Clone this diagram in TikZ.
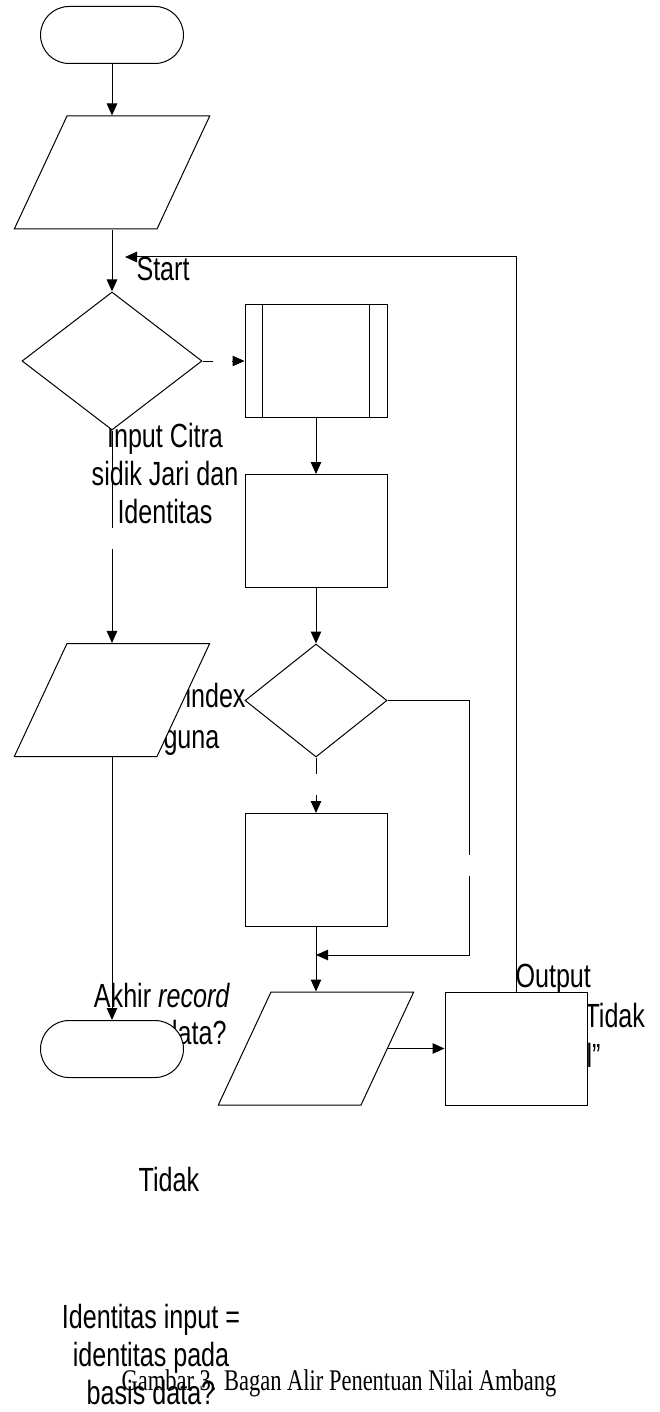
\documentclass[tikz,border=0pt]{standalone}
\usepackage{fontspec}
\setmainfont{Liberation Sans}[FakeStretch=0.75]
\newfontfamily\capfont{Liberation Serif}[FakeStretch=0.75]
\usetikzlibrary{shapes.geometric,shapes.misc,arrows.meta}

\begin{document}
\begin{tikzpicture}[x=1pt,y=-1pt,line width=1pt,
  term/.style={draw,fill=white,rounded rectangle,minimum width=143pt,minimum height=57pt,inner sep=0pt},
  io/.style={draw,fill=white,trapezium,trapezium left angle=65,trapezium right angle=115,inner xsep=45pt,inner ysep=56.5pt},
  proc/.style={draw,fill=white,minimum width=142pt,minimum height=113pt,inner sep=0pt},
  dec/.style={draw,fill=white,diamond,inner sep=0pt},
  lbl/.style={inner sep=0pt,align=center,font=\fontsize{33.5}{38}\selectfont},
  arr/.style={-{Triangle[length=12pt,width=10.5pt]}}
]
  \useasboundingbox (0,0) rectangle (660,1412);

  % Labels first, the white boxes go on top of them
  \node[lbl,anchor=base west] (tstart) at (136,280) {Start};
  \node[lbl,anchor=base] (tcitra) at (165,523) {Input Citra\\sidik Jari dan\\Identitas};
  \node[lbl,anchor=base west] (tindex) at (185,707) {index};
  \node[lbl,anchor=base west] (tguna) at (163,748) {guna};
  \node[lbl,anchor=base] (takhir) at (162,1007) {Akhir \textit{record}};
  \node[lbl,anchor=base east] (tdata) at (227,1044) {data?};
  \node[lbl,anchor=base west] (tout) at (515,987) {Output};
  \node[lbl,anchor=base west] (ttidak) at (584,1027) {Tidak};
  \node[lbl,anchor=base west] (tvalid) at (586,1067) {l”};
  \node[lbl,anchor=base] (ttidak2) at (169,1191) {Tidak};
  \node[lbl,anchor=base] (tident) at (151,1404) {Identitas input =\\identitas pada\\basis data?};
  \node[anchor=base,inner sep=0pt,font=\capfont\fontsize{30}{34}\selectfont] (caption) at (339,1390) {Gambar 3. Bagan Alir Penentuan Nilai Ambang};

  % Left column
  \node[term] (start) at (112,35) {};
  \node[io] (par1) at (112,172.5) {};
  \node[dec,minimum width=180pt,minimum height=138pt] (dec1) at (112,361) {};
  \node[io] (par3) at (112,700) {};
  \node[term] (stop) at (112,1049) {};

  % Middle column
  \node[proc] (sub) at (316,361) {};
  \draw ([xshift=18pt]sub.north west) -- ([xshift=18pt]sub.south west);
  \draw ([xshift=-18pt]sub.north east) -- ([xshift=-18pt]sub.south east);
  \node[proc] (box2) at (316,531) {};
  \node[dec,minimum width=142pt,minimum height=113pt] (dec2) at (316,700.5) {};
  \node[proc] (box3) at (316,870) {};
  \node[io] (par2) at (316,1048.5) {};
  \node[proc] (box4) at (516,1048.5) {};

  % Loose ends of the broken connectors
  \coordinate (ya1) at (213,361);
  \coordinate (ya2) at (232,361);
  \coordinate (no1) at (112,528);
  \coordinate (no2) at (112,549);
  \coordinate (ya3) at (316,774);
  \coordinate (ya4) at (316,795);
  \coordinate (no3) at (469,855);
  \coordinate (no4) at (469,876);
  \coordinate (merge) at (316,955);
  \coordinate (loop) at (125,257);

  % Connectors
  \draw[arr] (start) -- (par1);
  \draw[arr] (par1) -- (dec1);
  \draw (dec1.east) -- (ya1);
  \draw[arr] (ya2) -- (sub.west);
  \draw (dec1.south) -- (no1);
  \draw[arr] (no2) -- (par3);
  \draw[arr] (par3) -- (stop);
  \draw[arr] (sub) -- (box2);
  \draw[arr] (box2) -- (dec2);
  \draw (dec2.south) -- (ya3);
  \draw[arr] (ya4) -- (box3);
  \draw (dec2.east) -| (no3);
  \draw[arr] (no4) |- (merge);
  \draw[arr] (box3) -- (par2);
  \draw[arr] (par2.east) -- (box4.west);
  \draw[arr] (box4.north) |- (loop);
\end{tikzpicture}
\end{document}
